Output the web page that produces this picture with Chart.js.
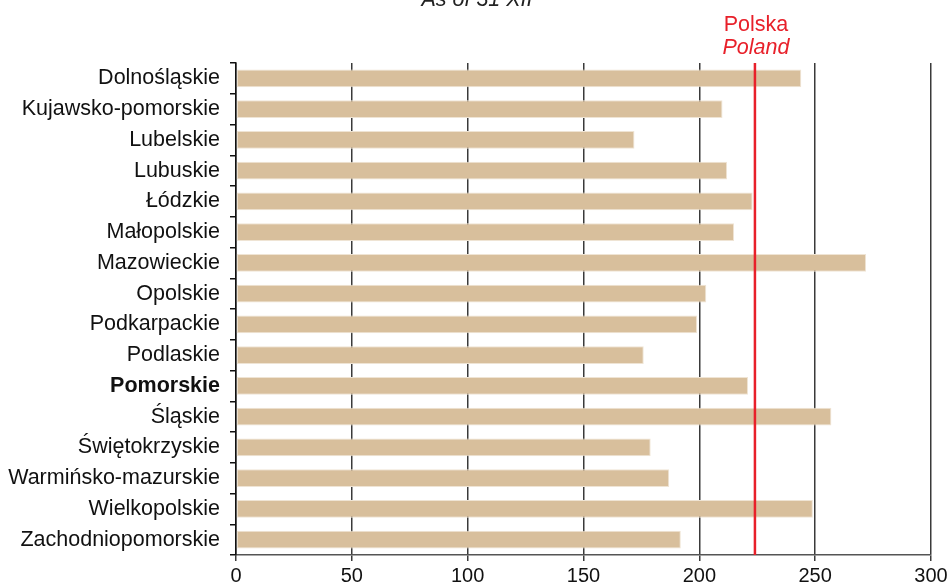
<!DOCTYPE html>
<html>
<head>
<meta charset="utf-8">
<script src="https://cdn.jsdelivr.net/npm/chart.js@4/dist/chart.umd.min.js"></script>
<style>
  html, body { margin: 0; padding: 0; background: #ffffff; }
  #wrap { width: 947px; height: 583px; position: relative; }
</style>
</head>
<body>
<div id="wrap"><canvas id="chart" width="947" height="583"></canvas></div>
<script>
// Voivodeships, top to bottom
const regions = [
  'Dolnośląskie', 'Kujawsko-pomorskie', 'Lubelskie', 'Lubuskie', 'Łódzkie',
  'Małopolskie', 'Mazowieckie', 'Opolskie', 'Podkarpackie', 'Podlaskie',
  'Pomorskie', 'Śląskie', 'Świętokrzyskie', 'Warmińsko-mazurskie',
  'Wielkopolskie', 'Zachodniopomorskie'
];
const regionValues = [244, 210, 172, 212, 223, 215, 272, 203, 199, 176, 221, 257, 179, 187, 249, 192];
const highlighted = 'Pomorskie';

// National reference value
const polandValue = 224;
const polandLabels = ['Polska', 'Poland'];

// Axis
const xMin = 0;
const xMax = 300;
const xStep = 50;

const subtitle = 'As of 31 XII';

const FONT = '"Liberation Sans", Arial, Helvetica, sans-serif';

const overlay = {
  id: 'overlay',
  afterDatasetsDraw(chart) {
    const ctx = chart.ctx;
    const x = chart.scales.x.getPixelForValue(polandValue);
    const area = chart.chartArea;
    ctx.save();
    ctx.strokeStyle = '#e8202a';
    ctx.lineWidth = 2.5;
    ctx.beginPath();
    ctx.moveTo(x, area.top);
    ctx.lineTo(x, area.bottom);
    ctx.stroke();
    ctx.restore();
  },
  afterDraw(chart) {
    const ctx = chart.ctx;
    const x = chart.scales.x.getPixelForValue(polandValue);
    ctx.save();
    ctx.fillStyle = '#e8202a';
    ctx.textAlign = 'center';
    ctx.textBaseline = 'alphabetic';
    ctx.font = '21.5px ' + FONT;
    ctx.fillText(polandLabels[0], x + 1, 31);
    ctx.font = 'italic 21.5px ' + FONT;
    ctx.fillText(polandLabels[1], x + 1, 54);

    ctx.fillStyle = '#222222';
    ctx.font = 'italic 21.5px ' + FONT;
    ctx.fillText(subtitle, 477, 6);
    ctx.restore();
  }
};

new Chart(document.getElementById('chart'), {
  type: 'bar',
  data: {
    labels: regions,
    datasets: [{
      data: regionValues,
      backgroundColor: '#d8bf9c',
      borderColor: '#efe4d4',
      borderWidth: 1,
      borderSkipped: false,
      categoryPercentage: 1,
      barPercentage: 0.58
    }]
  },
  options: {
    indexAxis: 'y',
    responsive: false,
    animation: false,
    devicePixelRatio: 1,
    layout: { padding: { top: 63, right: 16, left: 0, bottom: 0 } },
    plugins: {
      legend: { display: false },
      tooltip: { enabled: false },
      title: { display: false }
    },
    scales: {
      x: {
        type: 'linear',
        min: xMin,
        max: xMax,
        afterFit(scale) {
          scale.height = 28;
          scale.paddingRight = 0;
          scale.paddingLeft = 0;
        },
        ticks: {
          stepSize: xStep,
          padding: 3,
          color: '#111111',
          font: { family: FONT, size: 20 }
        },
        grid: {
          display: true,
          drawOnChartArea: true,
          drawTicks: true,
          tickLength: 6,
          color: '#3a3a3a',
          lineWidth: 1.5
        },
        border: { display: true, color: '#555555', width: 1.5 }
      },
      y: {
        type: 'category',
        offset: true,
        afterFit(scale) { scale.width = 236; },
        ticks: {
          padding: 10,
          color: '#111111',
          font(ctx) {
            const isHi = regions[ctx.index] === highlighted;
            return { family: FONT, size: 21.5, weight: isHi ? 'bold' : 'normal' };
          }
        },
        grid: {
          display: true,
          offset: true,
          drawOnChartArea: false,
          drawTicks: true,
          tickLength: 6,
          color: '#111111',
          lineWidth: 1.5
        },
        border: { display: true, color: '#111111', width: 1.5 }
      }
    }
  },
  plugins: [overlay]
});
</script>
</body>
</html>
